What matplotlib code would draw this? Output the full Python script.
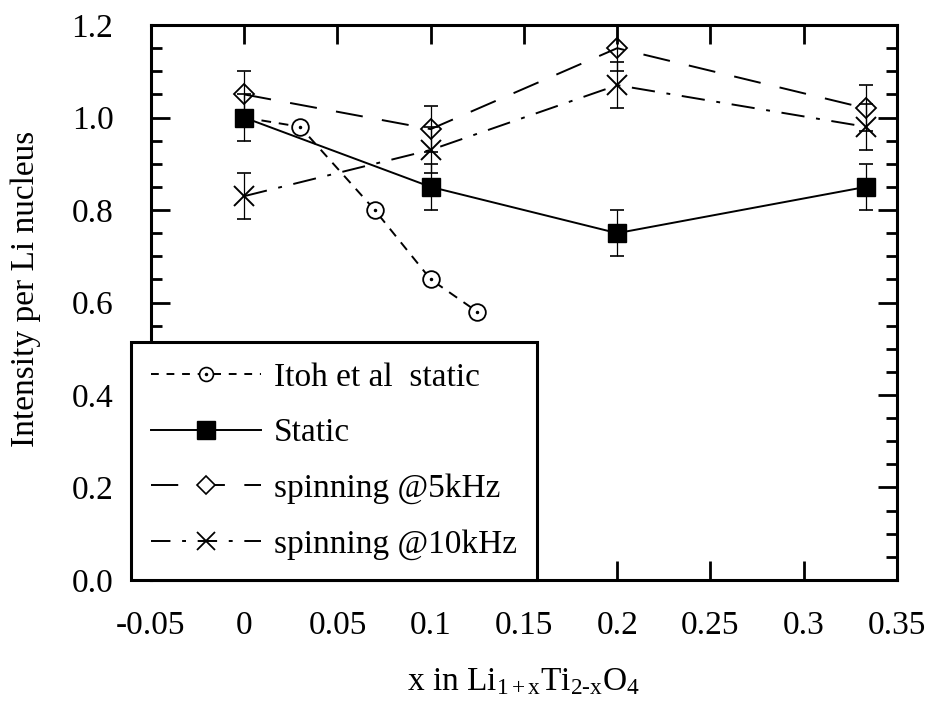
import matplotlib
matplotlib.use("Agg")
import matplotlib.pyplot as plt
from matplotlib.lines import Line2D

plt.rcParams['font.family'] = ['Liberation Serif', 'DejaVu Serif']
plt.rcParams['mathtext.fontset'] = 'custom'
plt.rcParams['mathtext.rm'] = 'Liberation Serif'
plt.rcParams['mathtext.it'] = 'Liberation Serif:italic'

# data
itoh_x = [0.0, 0.03, 0.07, 0.1, 0.125]
itoh_y = [1.0, 0.98, 0.80, 0.65, 0.58]

static_x = [0.0, 0.1, 0.2, 1 / 3]
static_y = [1.0, 0.85, 0.75, 0.85]
static_err = [0.05, 0.05, 0.05, 0.05]

spin5_x = [0.0, 0.1, 0.2, 1 / 3]
spin5_y = [1.05, 0.975, 1.15, 1.02]
spin5_err = [0.05, 0.05, 0.05, 0.05]

spin10_x = [0.0, 0.1, 0.2, 1 / 3]
spin10_y = [0.83, 0.93, 1.07, 0.98]
spin10_err = [0.05, 0.05, 0.05, 0.05]

x_ticks = [-0.05, 0, 0.05, 0.1, 0.15, 0.2, 0.25, 0.3, 0.35]
x_labels = ['-0.05', '0', '0.05', '0.1', '0.15', '0.2', '0.25', '0.3', '0.35']
y_ticks = [0.0, 0.2, 0.4, 0.6, 0.8, 1.0, 1.2]
y_labels = ['0.0', '0.2', '0.4', '0.6', '0.8', '1.0', '1.2']

fig = plt.figure(figsize=(9.29, 7.06), dpi=100)
ax = fig.add_axes([0.1625, 0.1785, 0.803, 0.786])

FS = 24

# error bars (thin, with short caps)
for xs, ys, es in [(static_x, static_y, static_err),
                   (spin5_x, spin5_y, spin5_err),
                   (spin10_x, spin10_y, spin10_err)]:
    ax.errorbar(xs, ys, yerr=es, fmt='none', ecolor='black',
                elinewidth=0.9, capsize=5, capthick=1.2, zorder=2)

# Itoh et al: dashed line, circles with a dot in the middle
ax.plot(itoh_x, itoh_y, color='black', linestyle=(0, (5, 4)), linewidth=1.4, zorder=3)
ax.plot(itoh_x[1:], itoh_y[1:], linestyle='none', marker='o', markersize=12,
        markerfacecolor='white', markeredgecolor='black', markeredgewidth=1.3, zorder=4)
ax.plot(itoh_x[1:], itoh_y[1:], linestyle='none', marker='.', markersize=3,
        color='black', zorder=5)

# Static
ax.plot(static_x, static_y, color='black', linestyle='-', linewidth=1.4,
        marker='s', markersize=13, markerfacecolor='black', zorder=5)

# spinning @5kHz
ax.plot(spin5_x, spin5_y, color='black', linestyle=(0, (14, 10)), linewidth=1.4,
        marker='D', markersize=10, markerfacecolor='none', markeredgewidth=1.3, zorder=4)

# spinning @10kHz
ax.plot(spin10_x, spin10_y, color='black', linestyle=(0, (12, 6, 2, 6)), linewidth=1.4,
        marker='x', markersize=14, markeredgewidth=1.4, zorder=4)

ax.set_xlim(-0.05, 0.35)
ax.set_ylim(0.0, 1.2)
ax.set_xticks(x_ticks)
ax.set_xticklabels(x_labels, fontsize=FS)
ax.set_yticks(y_ticks)
ax.set_yticklabels(y_labels, fontsize=FS)
ax.set_yticks([v / 20 for v in range(25)], minor=True)

ax.tick_params(which='major', direction='in', length=14, width=2,
               top=True, right=True)
ax.tick_params(axis='x', which='major', pad=22)
ax.tick_params(axis='y', which='major', pad=27)
ax.tick_params(which='minor', direction='in', length=8, width=2,
               left=True, right=True)
ax.tick_params(axis='x', which='minor', bottom=False, top=False)
for sp in ax.spines.values():
    sp.set_linewidth(2.2)

ax.set_xlabel(r'x in Li$_{\mathrm{1+x}}$Ti$_{\mathrm{2\text{-}x}}$O$_{\mathrm{4}}$',
              fontsize=FS, labelpad=18)
ax.set_ylabel('Intensity per Li nucleus', fontsize=FS)
ax.yaxis.set_label_coords(-0.147, 0.524)

handles = [
    (Line2D([], [], color='black', linestyle=(0, (4, 4)), linewidth=1.4),
     Line2D([], [], linestyle='none', marker='o', markersize=10,
            markerfacecolor='white', markeredgecolor='black', markeredgewidth=1.2),
     Line2D([], [], linestyle='none', marker='.', markersize=3, color='black')),
    Line2D([], [], color='black', linestyle='-', linewidth=1.4,
           marker='s', markersize=13, markerfacecolor='black'),
    Line2D([], [], color='black', linestyle=(0, (14, 10)), linewidth=1.4,
           marker='D', markersize=9, markerfacecolor='white', markeredgewidth=1.2),
    Line2D([], [], color='black', linestyle=(0, (10, 6, 2, 6)), linewidth=1.4,
           marker='x', markersize=13, markeredgewidth=1.3),
]
labels = ['Itoh et al  static', 'Static', 'spinning @5kHz', 'spinning @10kHz']
leg = ax.legend(handles, labels, loc='lower left', bbox_to_anchor=(-0.027, 0.0),
                borderaxespad=0, fontsize=FS, handlelength=3.3, handletextpad=0.4,
                labelspacing=0.75, borderpad=0.6, fancybox=False, framealpha=1,
                edgecolor='black')
leg.get_frame().set_linewidth(2.2)
leg.set_zorder(10)

fig.savefig('out.png', dpi=100)
